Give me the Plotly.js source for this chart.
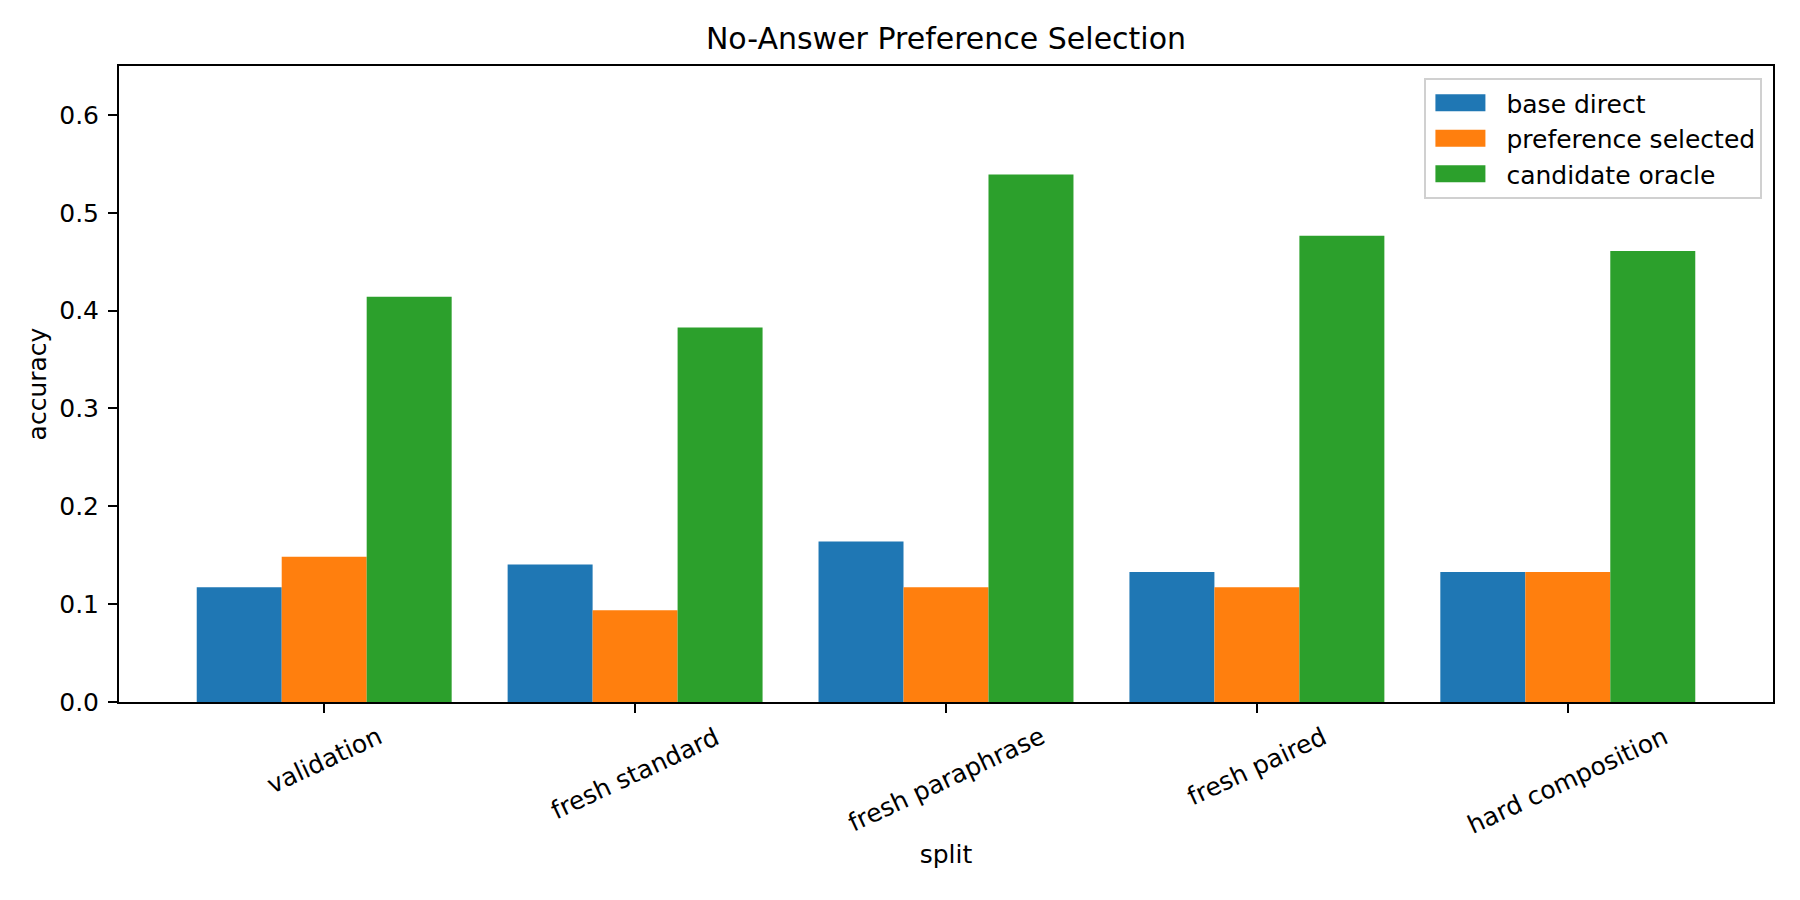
<!DOCTYPE html>
<html>
<head>
<meta charset="utf-8">
<script src="https://cdn.plot.ly/plotly-3.0.1.min.js"></script>
<style>
  html, body { margin: 0; padding: 0; background: #ffffff; }
  #chart { width: 1800px; height: 900px; }
</style>
</head>
<body>
<div id="chart"></div>
<script>
// ---- data ----
const categories = ['validation', 'fresh standard', 'fresh paraphrase', 'fresh paired', 'hard composition'];
const baseDirect = [0.1172, 0.1406, 0.1641, 0.1328, 0.1328];
const preferenceSelected = [0.1484, 0.0938, 0.1172, 0.1172, 0.1328];
const candidateOracle = [0.4141, 0.3828, 0.5391, 0.4766, 0.4609];
const seriesNames = ['base direct', 'preference selected', 'candidate oracle'];
const yTicks = [0.0, 0.1, 0.2, 0.3, 0.4, 0.5, 0.6];

const colors = ['#1f77b4', '#ff7f0e', '#2ca02c'];
const FONT = 'DejaVu Sans, sans-serif';

const seriesValues = [baseDirect, preferenceSelected, candidateOracle];
const traces = seriesValues.map((vals, i) => ({
  type: 'bar',
  name: seriesNames[i],
  x: categories,
  y: vals,
  marker: { color: colors[i], line: { width: 0 } },
  hoverinfo: 'x+y+name'
}));

const labelAnnotations = categories.map(c => ({
  x: c, xref: 'x',
  y: 0, yref: 'y',
  yshift: -17,
  text: c,
  showarrow: false,
  textangle: -25,
  xanchor: 'center',
  yanchor: 'top',
  font: { family: FONT, size: 25, color: '#000000' }
}));

const layout = {
  width: 1800,
  height: 900,
  paper_bgcolor: '#ffffff',
  plot_bgcolor: '#ffffff',
  margin: { l: 119, r: 27, t: 66, b: 198, pad: 0 },
  font: { family: FONT, size: 25, color: '#000000' },
  title: {
    text: 'No-Answer Preference Selection',
    font: { family: FONT, size: 30, color: '#000000' },
    xref: 'paper', x: 0.5, xanchor: 'center',
    yref: 'container', y: 0.957, yanchor: 'middle'
  },
  barmode: 'group',
  bargap: 0.18,
  bargroupgap: 0,
  xaxis: {
    type: 'category',
    range: [-0.66, 4.66],
    showticklabels: false,
    ticks: 'outside', ticklen: 9, tickwidth: 2, tickcolor: '#000000',
    showline: true, linewidth: 2, linecolor: '#000000', mirror: true,
    showgrid: false, zeroline: false,
    title: { text: 'split', font: { family: FONT, size: 25, color: '#000000' }, standoff: 133 },
    automargin: false
  },
  yaxis: {
    range: [0, 0.65],
    tickvals: yTicks,
    tickformat: '.1f',
    ticks: 'outside', ticklen: 9, tickwidth: 2, tickcolor: '#000000',
    ticklabelstandoff: 4,
    tickfont: { family: FONT, size: 25, color: '#000000' },
    showline: true, linewidth: 2, linecolor: '#000000', mirror: true,
    showgrid: false, zeroline: false,
    title: { text: 'accuracy', font: { family: FONT, size: 25, color: '#000000' }, standoff: 5 },
    automargin: false
  },
  legend: {
    x: 0.9936, xanchor: 'right', xref: 'paper',
    y: 0.981, yanchor: 'top', yref: 'paper',
    bgcolor: 'rgba(255,255,255,0.8)',
    bordercolor: '#d0d0d0',
    borderwidth: 2,
    font: { family: FONT, size: 25, color: '#000000' },
    itemwidth: 70,
    tracegroupgap: 0
  },
  annotations: labelAnnotations,
  showlegend: true
};

Plotly.newPlot('chart', traces, layout, { displayModeBar: false, staticPlot: true }).then(gd => {
  // widen the legend swatches to the matplotlib-style rectangular patches
  gd.querySelectorAll('g.legend g.legendpoints path').forEach(p => {
    p.setAttribute('d', 'M-31,-8.5H19V8.5H-31Z');
  });
});
</script>
</body>
</html>
